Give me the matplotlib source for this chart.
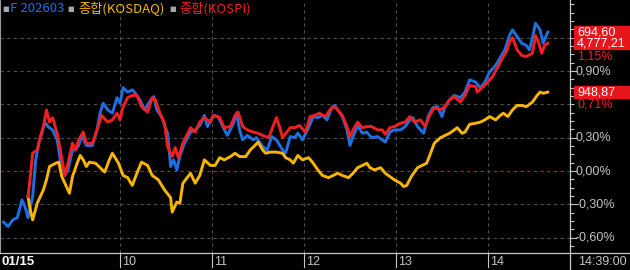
import matplotlib
matplotlib.use('Agg')
import matplotlib.pyplot as plt
from matplotlib.lines import Line2D
from matplotlib.patches import Rectangle
from matplotlib.ticker import MultipleLocator

# minutes from 09:00, change in %
fut_t = [-16, -13, -10, -7, -4, -2, 0, 3, 5, 7, 9, 11, 13, 16, 19, 21, 24, 26, 29, 31,
         33, 35, 38, 42, 45, 47, 49, 52, 55, 58, 60, 62, 65, 68, 70, 73, 76, 80, 82, 84,
         87, 91, 93, 95, 97, 99, 102, 106, 109, 112, 115, 117, 121, 124, 127, 130, 134, 136, 138, 140,
         143, 147, 149, 153, 156, 159, 162, 166, 168, 171, 174, 176, 179, 183, 186, 189, 192, 195, 198, 200,
         202, 205, 208, 210, 212, 215, 218, 221, 224, 228, 231, 233, 236, 239, 243, 246, 249, 251, 254, 258,
         261, 264, 267, 270, 272, 275, 278, 282, 285, 288, 292, 295, 298, 301, 305, 308, 311, 314, 316, 319,
         322, 325, 327, 329, 331, 334, 336, 339]
fut_v = [-0.46, -0.50, -0.44, -0.42, -0.26, -0.32, -0.42, -0.23, 0.10, 0.25, 0.34, 0.44, 0.40, 0.37, 0.28, 0.10, -0.04, 0.01, 0.19, 0.19,
         0.23, 0.32, 0.23, 0.23, 0.37, 0.52, 0.61, 0.55, 0.52, 0.66, 0.61, 0.75, 0.71, 0.73, 0.70, 0.64, 0.55, 0.64, 0.67, 0.55,
         0.49, 0.34, 0.04, 0.10, 0.01, 0.13, 0.25, 0.35, 0.37, 0.41, 0.50, 0.40, 0.50, 0.49, 0.40, 0.32, 0.43, 0.52, 0.37, 0.28,
         0.32, 0.28, 0.30, 0.22, 0.19, 0.31, 0.28, 0.19, 0.16, 0.31, 0.30, 0.34, 0.28, 0.39, 0.49, 0.48, 0.50, 0.46, 0.57, 0.59,
         0.55, 0.49, 0.37, 0.23, 0.31, 0.41, 0.34, 0.35, 0.30, 0.31, 0.28, 0.26, 0.35, 0.37, 0.37, 0.40, 0.46, 0.48, 0.40, 0.34,
         0.49, 0.57, 0.58, 0.49, 0.58, 0.64, 0.68, 0.66, 0.71, 0.82, 0.80, 0.75, 0.80, 0.89, 0.95, 1.02, 1.09, 1.22, 1.27, 1.21,
         1.15, 1.13, 1.09, 1.20, 1.33, 1.27, 1.15, 1.25]

kosdaq_t = [0, 1, 3, 6, 8, 10, 12, 14, 18, 20, 22, 25, 27, 29, 32, 34, 36, 38, 40, 44,
            47, 50, 53, 55, 59, 62, 65, 68, 71, 74, 78, 81, 85, 89, 93, 94, 97, 99, 101, 106,
            109, 112, 115, 119, 122, 125, 128, 132, 135, 138, 142, 145, 148, 150, 153, 155, 158, 162, 166, 168,
            171, 173, 176, 179, 183, 186, 189, 192, 196, 199, 202, 205, 209, 212, 215, 218, 221, 223, 226, 230,
            233, 236, 239, 243, 245, 247, 250, 254, 257, 260, 262, 265, 269, 272, 275, 278, 280, 283, 285, 288,
            292, 295, 298, 301, 305, 308, 310, 313, 316, 319, 322, 325, 329, 332, 334, 336, 339]
kosdaq_v = [-0.23, -0.32, -0.44, -0.29, -0.23, -0.17, -0.08, 0.04, 0.07, 0.08, -0.05, -0.14, -0.20, -0.05, 0.07, 0.14, 0.10, 0.04, 0.08, 0.07,
            0.03, -0.01, 0.10, 0.16, 0.07, -0.04, -0.06, -0.13, -0.02, 0.08, 0.05, -0.04, -0.08, -0.17, -0.24, -0.37, -0.28, -0.29, -0.11, -0.02,
            -0.11, -0.04, 0.10, 0.05, 0.05, 0.12, 0.10, 0.13, 0.16, 0.13, 0.13, 0.19, 0.23, 0.26, 0.19, 0.16, 0.17, 0.17, 0.16, 0.12,
            0.10, 0.07, 0.14, 0.10, 0.12, 0.07, 0.01, -0.04, -0.06, -0.04, -0.02, -0.04, -0.06, -0.02, 0.03, 0.05, 0.07, 0.03, 0.01, 0.03,
            -0.02, -0.05, -0.08, -0.11, -0.14, -0.13, -0.05, 0.03, 0.05, 0.07, 0.14, 0.25, 0.30, 0.32, 0.34, 0.37, 0.39, 0.34, 0.35, 0.42,
            0.43, 0.44, 0.46, 0.49, 0.46, 0.50, 0.52, 0.49, 0.55, 0.59, 0.59, 0.58, 0.62, 0.68, 0.71, 0.70, 0.71]

kospi_t = [0, 1, 3, 6, 8, 10, 12, 14, 16, 19, 21, 24, 26, 29, 31, 33, 36, 38, 42, 45,
           48, 52, 55, 58, 60, 62, 65, 68, 71, 74, 78, 81, 83, 86, 89, 91, 94, 96, 98, 101,
           106, 109, 112, 115, 119, 121, 125, 128, 132, 135, 137, 140, 143, 147, 150, 153, 157, 160, 162, 164,
           166, 171, 174, 177, 181, 184, 187, 190, 194, 197, 200, 202, 205, 208, 210, 212, 215, 218, 221, 224,
           228, 231, 233, 236, 239, 243, 246, 249, 252, 256, 259, 262, 265, 269, 272, 275, 278, 282, 285, 288,
           292, 293, 297, 300, 303, 307, 310, 312, 314, 316, 319, 322, 325, 329, 331, 333, 335, 337, 339]
kospi_v = [-0.23, -0.11, 0.16, 0.19, 0.31, 0.40, 0.55, 0.44, 0.48, 0.34, 0.19, -0.04, 0.07, 0.25, 0.19, 0.28, 0.35, 0.25, 0.25, 0.37,
           0.50, 0.44, 0.46, 0.52, 0.46, 0.58, 0.66, 0.68, 0.68, 0.58, 0.53, 0.66, 0.64, 0.52, 0.43, 0.22, 0.13, 0.21, 0.12, 0.25,
           0.39, 0.35, 0.44, 0.48, 0.44, 0.50, 0.48, 0.39, 0.40, 0.50, 0.53, 0.40, 0.37, 0.35, 0.34, 0.32, 0.30, 0.41, 0.48, 0.40,
           0.30, 0.39, 0.39, 0.41, 0.35, 0.49, 0.50, 0.52, 0.49, 0.55, 0.58, 0.55, 0.50, 0.40, 0.31, 0.37, 0.44, 0.39, 0.40, 0.40,
           0.37, 0.37, 0.33, 0.39, 0.40, 0.43, 0.44, 0.49, 0.44, 0.46, 0.40, 0.50, 0.57, 0.55, 0.58, 0.64, 0.67, 0.62, 0.68, 0.77,
           0.76, 0.71, 0.76, 0.80, 0.85, 0.95, 1.03, 1.07, 1.16, 1.20, 1.09, 1.04, 1.03, 1.06, 1.22, 1.16, 1.06, 1.13, 1.15]

hour_t = [60, 120, 180, 240, 300]
hour_labels = ['10', '11', '12', '13', '14']
pct_ticks = [0.9, 0.3, 0.0, -0.3, -0.6]
pct_labels = ['0,90%', '0,30%', '0,00%', '-0,30%', '-0,60%']
grid_levels = [1.2, 0.9, 0.6, 0.3, -0.3, -0.6]

BLUE = '#1f6fe0'
YELLOW = '#f7b500'
RED = '#f02020'
GRAY = '#c4c4c4'
NUM = ['Liberation Sans', 'DejaVu Sans']

W, H = 630, 270
fig = plt.figure(figsize=(W / 100, H / 100), dpi=100, facecolor='black')
ax = fig.add_axes([0, 17 / H, 570 / W, 253 / H], facecolor='black')
ax.set_xlim(-18.3, 353.5)
ax.set_ylim(-0.738, 1.539)

for lv in grid_levels:
    ax.axhline(lv, color='#505050', lw=0.8, ls=(0, (3, 3)), zorder=1)
ax.axhline(0, color='#c81e1e', lw=0.8, ls=(0, (3, 3)), zorder=1)
for t in hour_t:
    ax.axvline(t, color='#505050', lw=0.8, ls=(0, (3, 3)), zorder=1)

ax.plot(fut_t, fut_v, color=BLUE, lw=2.1, zorder=3)
ax.plot(kosdaq_t, kosdaq_v, color=YELLOW, lw=2.1, zorder=4)
ax.plot(kospi_t, kospi_v, color=RED, lw=2.1, zorder=5)

for s in ['top', 'bottom', 'right']:
    ax.spines[s].set_visible(False)
ax.spines['left'].set_color('#9a9a9a')
ax.spines['left'].set_linewidth(1.5)

# right axis ticks
ax.yaxis.tick_right()
ax.set_yticks(pct_ticks)
ax.set_yticklabels([])
ax.yaxis.set_minor_locator(MultipleLocator(0.075))
ax.tick_params(axis='y', which='major', length=5, color=GRAY, width=0.8)
ax.tick_params(axis='y', which='minor', length=3, color=GRAY, width=0.8)
ax.set_xticks([])

# frame lines
fig.add_artist(Line2D([570 / W, 570 / W], [0, 1], color='#c8c8c8', lw=0.9))
fig.add_artist(Line2D([0, 1], [17 / H, 17 / H], color='#c8c8c8', lw=0.9))

def fy(v):
    return ax.transData.transform((0, v))[1] / H

def fx(t):
    return ax.transData.transform((t, 0))[0] / W

for v, lab in zip(pct_ticks, pct_labels):
    fig.text(576 / W, fy(v), lab, color=GRAY, fontsize=9, family=NUM, va='center', ha='left')

# hour labels
for t, lab in zip(hour_t, hour_labels):
    x = fx(t)
    fig.add_artist(Line2D([x, x], [3 / H, 17 / H], color='#c8c8c8', lw=0.8))
    fig.text(x + 2 / W, 8 / H, lab, color=GRAY, fontsize=9, family=NUM, va='center', ha='left')
fig.text(2 / W, 8 / H, '01/15', color='white', fontsize=9.5, family=NUM, weight='bold', va='center', ha='left')
fig.text(578 / W, 8 / H, '14:39:00', color=GRAY, fontsize=9, family=NUM, va='center', ha='left')

# last value boxes
top1 = fy(fut_v[-1]) + 6 / H
bot1 = fy(kospi_v[-1]) - 6 / H
fig.add_artist(Rectangle((574 / W, bot1), 56 / W, top1 - bot1, color='#e8161a', transform=fig.transFigure))
fig.text(577 / W, fy(fut_v[-1]), '694,60', color='white', fontsize=9, family=NUM, va='center', ha='left')
fig.text(577 / W, fy(kospi_v[-1]), '4,777,21', color='white', fontsize=9, family=NUM, va='center', ha='left')
fig.text(577 / W, fy(kospi_v[-1]) - 13 / H, '1,15%', color=RED, fontsize=9, family=NUM, va='center', ha='left')

fig.add_artist(Rectangle((574 / W, fy(kosdaq_v[-1]) - 6 / H), 56 / W, 12 / H, color='#e8161a', transform=fig.transFigure))
fig.text(577 / W, fy(kosdaq_v[-1]), '948,87', color='white', fontsize=9, family=NUM, va='center', ha='left')
fig.text(577 / W, fy(kosdaq_v[-1]) - 12 / H, '0,71%', color=RED, fontsize=9, family=NUM, va='center', ha='left')

# header legend
ly = 1 - 9 / H
KR = ['Noto Sans CJK KR', 'DejaVu Sans']
for xs in [2, 67, 169]:
    fig.text(xs / W, ly, '■', color='#a8a8a8', fontsize=5, family='DejaVu Sans', va='center', ha='left')
fig.text(10 / W, ly, 'F 202603', color=BLUE, fontsize=9.5, family=KR, va='center', ha='left')
fig.text(78 / W, ly, '종합(KOSDAQ)', color=YELLOW, fontsize=9.5, family=KR, va='center', ha='left')
fig.text(179 / W, ly, '종합(KOSPI)', color=RED, fontsize=9.5, family=KR, va='center', ha='left')

fig.savefig('out.png', dpi=100, facecolor='black')
